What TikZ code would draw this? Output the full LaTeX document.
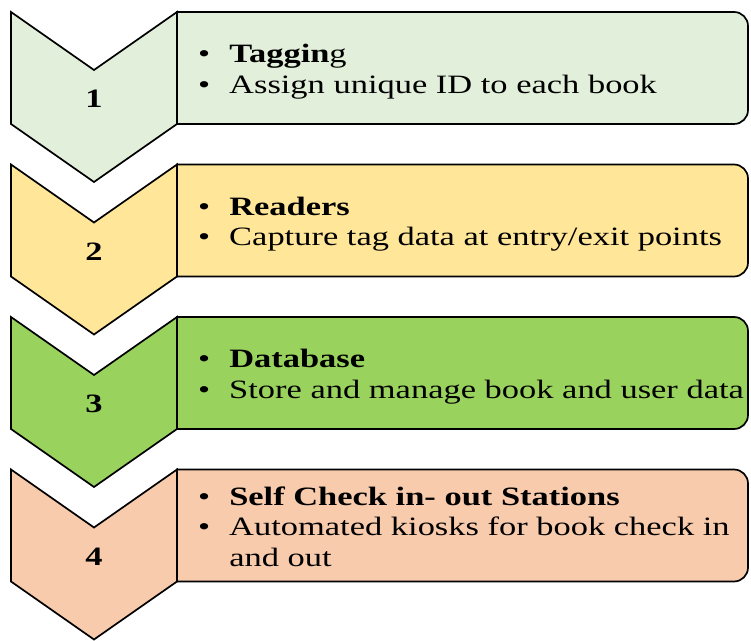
\documentclass[tikz,border=0pt]{standalone}
\usepackage{fontspec}
\setmainfont[FakeStretch=1.3]{Liberation Serif}
\definecolor{cone}{HTML}{E2EFDA}
\definecolor{ctwo}{HTML}{FFE699}
\definecolor{cthree}{HTML}{99D35E}
\definecolor{cfour}{HTML}{F8CBAD}
\begin{document}
\begin{tikzpicture}[x=1pt,y=1pt,
  outline/.style={draw=black, line width=1.7pt, line join=miter},
  numlabel/.style={font=\fontsize{26.5}{30}\selectfont\bfseries, inner sep=0pt},
  boxtext/.style={font=\fontsize{26.5}{30.5}\selectfont, anchor=west, inner sep=0pt, align=left}]
\useasboundingbox (0,0) rectangle (751,640);
% Step 1
\filldraw[outline, fill=cone] (177,628) -- (734,628) arc[start angle=90,end angle=0,radius=14] -- (748,530) arc[start angle=0,end angle=-90,radius=14] -- (177,516) -- cycle;
\filldraw[outline, fill=cone] (11,628) -- (94,570) -- (177,628) -- (177,516) -- (94,458) -- (11,516) -- cycle;
\node[numlabel] (n1) at (94,541) {1};
\node[boxtext] (t1) at (198,568) {\begin{tabular}{@{}l@{\hspace{19pt}}l@{}}\textbullet & \textbf{Taggin}g\\ \textbullet & Assign unique ID to each book\end{tabular}};
% Step 2
\filldraw[outline, fill=ctwo] (177,475.5) -- (734,475.5) arc[start angle=90,end angle=0,radius=14] -- (748,377.5) arc[start angle=0,end angle=-90,radius=14] -- (177,363.5) -- cycle;
\filldraw[outline, fill=ctwo] (11,475.5) -- (94,417.5) -- (177,475.5) -- (177,363.5) -- (94,305.5) -- (11,363.5) -- cycle;
\node[numlabel] (n2) at (94,388.5) {2};
\node[boxtext] (t2) at (198,415.5) {\begin{tabular}{@{}l@{\hspace{19pt}}l@{}}\textbullet & \textbf{Readers}\\ \textbullet & Capture tag data at entry/exit points\end{tabular}};
% Step 3
\filldraw[outline, fill=cthree] (177,323) -- (734,323) arc[start angle=90,end angle=0,radius=14] -- (748,225) arc[start angle=0,end angle=-90,radius=14] -- (177,211) -- cycle;
\filldraw[outline, fill=cthree] (11,323) -- (94,265) -- (177,323) -- (177,211) -- (94,153) -- (11,211) -- cycle;
\node[numlabel] (n3) at (94,236) {3};
\node[boxtext] (t3) at (198,263) {\begin{tabular}{@{}l@{\hspace{19pt}}l@{}}\textbullet & \textbf{Database}\\ \textbullet & Store and manage book and user data\end{tabular}};
% Step 4
\filldraw[outline, fill=cfour] (177,170.5) -- (734,170.5) arc[start angle=90,end angle=0,radius=14] -- (748,72.5) arc[start angle=0,end angle=-90,radius=14] -- (177,58.5) -- cycle;
\filldraw[outline, fill=cfour] (11,170.5) -- (94,112.5) -- (177,170.5) -- (177,58.5) -- (94,0.5) -- (11,58.5) -- cycle;
\node[numlabel] (n4) at (94,83.5) {4};
\node[boxtext] (t4) at (198,110.5) {\begin{tabular}{@{}l@{\hspace{19pt}}l@{}}\textbullet & \textbf{Self Check in- out Stations}\\ \textbullet & Automated kiosks for book check in\\ & and out\end{tabular}};
\end{tikzpicture}
\end{document}
